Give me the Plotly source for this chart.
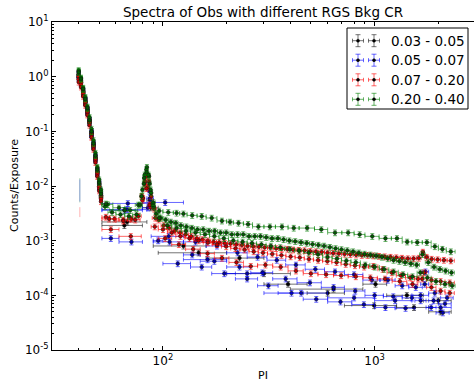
import plotly.graph_objects as go

# ---------------------------------------------------------------------------
# Data: grouped RGS background spectra (count rate per PI bin)
# Each spectrum is a list of contiguous bin edges (PI) and the rate per bin.
# All spectra share one-channel bins over the steep low-PI edge (PI 40-51).
# ---------------------------------------------------------------------------
EDGE_BINS = [39.5, 40.5, 41.5, 42.5, 43.5, 44.5, 45.5, 46.5, 47.5, 48.5, 49.5, 50.5, 51.5]

# --- 0.03 - 0.05 (black) ---
K1_EDGES = [51.5, 84, 90, 160, 300, 480, 720, 1270, 1800, 2300]
K1_RATE = [1.0, 0.8, 0.52, 0.35, 0.23, 0.15, 0.09, 0.055, 0.032, 0.018, 0.010, 0.0064,
           0.0022, 0.0055, 0.0008, 0.00048, 0.00016, 0.00011, 0.000065, 0.00006, 0.00005]
K2_EDGES = [51.5, 80, 95, 200, 400, 880, 1140, 1700, 2300]
K2_RATE = [0.98, 0.78, 0.5, 0.34, 0.22, 0.145, 0.088, 0.053, 0.031, 0.017, 0.0098, 0.0062,
           0.0019, 0.004, 0.0006, 0.00025, 0.00013, 0.00016, 0.0001, 0.00008]

# --- 0.05 - 0.07 (blue) ---
B1_EDGES = [51.5, 85, 88, 125, 160, 200, 250, 310, 380, 470, 580, 720, 880, 1060, 1250,
            1450, 1680, 1800, 2050, 2350]
B1_RATE = [1.1, 0.85, 0.55, 0.37, 0.25, 0.16, 0.095, 0.058, 0.034, 0.019, 0.011, 0.0068,
           0.0048, 0.008, 0.0012, 0.00095, 0.0008, 0.0006, 0.0005, 0.00044, 0.00036, 0.0003,
           0.00027, 0.00024, 0.00019, 0.00019, 0.00015, 0.00014, 0.00027, 0.00011, 0.00009]
B2_EDGES = [51.5, 84, 90, 125, 150, 200, 260, 330, 430, 560, 720, 900, 1100, 1350, 1650,
            1800, 2000, 2300]
B2_RATE = [1.05, 0.8, 0.53, 0.36, 0.24, 0.155, 0.092, 0.056, 0.033, 0.018, 0.0105, 0.0066,
           0.0037, 0.006, 0.00095, 0.00055, 0.00042, 0.00033, 0.00026, 0.0002, 0.00017,
           0.00014, 0.00012, 0.0001, 0.000095, 0.00009, 0.00016, 0.00008, 0.00007]
B3_EDGES = [51.5, 62, 80, 90, 100, 135, 170, 220, 280, 350, 460, 600, 780, 1000, 1250, 1550,
            1750, 1950, 2250]
B3_RATE = [0.95, 0.75, 0.5, 0.34, 0.22, 0.145, 0.085, 0.052, 0.03, 0.017, 0.0095, 0.006,
           0.0011, 0.00095, 0.004, 0.001, 0.00038, 0.00033, 0.00025, 0.0002, 0.00015,
           0.00011, 0.000085, 0.000076, 0.000068, 0.00006, 0.000058, 0.00008, 0.00006,
           0.000048]
B4_EDGES = [51.5, 80, 125, 200, 300, 600, 1000, 1500, 1800, 2300]
B4_RATE = [1.08, 0.83, 0.54, 0.36, 0.245, 0.158, 0.093, 0.057, 0.033, 0.0185, 0.0108, 0.0067,
           0.0036, 0.005, 0.00045, 0.00025, 0.00011, 0.00009, 0.00008, 0.0001, 0.00006]

# --- 0.07 - 0.20 (red) ---
R1_EDGES = [51.5, 56, 62, 68, 74, 79, 81, 83, 85, 87, 89, 93, 98, 104, 110, 117, 124, 132,
            140, 149, 158, 168, 179, 190, 202, 215, 229, 243, 259, 275, 293, 312, 332, 353,
            375, 399, 425, 452, 481, 512, 545, 580, 617, 657, 699, 744, 792, 843, 897, 955,
            1016, 1082, 1152, 1226, 1305, 1390, 1480, 1575, 1660, 1720, 1800, 1920, 2050,
            2200, 2380]
R1_RATE = [1.0, 0.78, 0.5, 0.34, 0.23, 0.15, 0.088, 0.055, 0.032, 0.018, 0.0098, 0.0063,
           0.0027, 0.0025, 0.0024, 0.0025, 0.0028,
           0.0055, 0.011, 0.015, 0.012, 0.0065,
           0.0038, 0.0024, 0.0019, 0.0017, 0.0015,
           0.0014, 0.0013, 0.0012, 0.0011, 0.00105,
           0.001, 0.00095, 0.00093, 0.0009, 0.00088,
           0.00085, 0.00083, 0.0008, 0.00078, 0.00077,
           0.00075, 0.00074, 0.00072, 0.00071, 0.0007,
           0.00068, 0.00067, 0.00066, 0.00064, 0.00063,
           0.00062, 0.0006, 0.00059, 0.00058, 0.00057,
           0.00056, 0.00055, 0.00054, 0.00054, 0.00053,
           0.00052, 0.00051, 0.0005, 0.00049, 0.00048,
           0.00047, 0.00047, 0.00048, 0.00062, 0.0005,
           0.00046, 0.00045, 0.00044, 0.00043]
R2_EDGES = [51.5, 60, 70, 78, 81, 83.5, 86, 89, 95, 105, 115, 127, 140, 155, 171, 189, 209,
            231, 255, 282, 312, 345, 381, 421, 465, 514, 568, 628, 694, 767, 848, 937, 1036,
            1145, 1266, 1399, 1546, 1660, 1760, 1950, 2150, 2380]
R2_RATE = [0.9, 0.7, 0.47, 0.32, 0.21, 0.14, 0.08, 0.05, 0.029, 0.016, 0.0088, 0.0058,
           0.0025, 0.0023, 0.0024, 0.0065, 0.012, 0.0095, 0.0045, 0.0026, 0.0016, 0.0014,
           0.0012, 0.0011, 0.001, 0.00092, 0.00085,
           0.00078, 0.00072, 0.00068, 0.00063, 0.0006,
           0.00057, 0.00054, 0.00051, 0.00049, 0.00046,
           0.00044, 0.00042, 0.0004, 0.00037, 0.00035,
           0.00033, 0.00034, 0.0003, 0.00026, 0.00023,
           0.00021, 0.0002, 0.00026, 0.00019, 0.00018,
           0.00017]
R3_EDGES = [51.5, 62, 79, 82, 85, 88, 95, 110, 128, 150, 175, 205, 240, 280, 330, 390, 460,
            540, 640, 750, 880, 1030, 1210, 1420, 1600, 1760, 1950, 2150, 2380]
R3_RATE = [0.8, 0.65, 0.44, 0.3, 0.2, 0.13, 0.078, 0.047, 0.027, 0.015, 0.0082, 0.0052,
           0.0016, 0.0012, 0.006, 0.009, 0.0045, 0.0018, 0.0011, 0.00085, 0.0007, 0.00058,
           0.00048, 0.0004, 0.00034, 0.00036, 0.00033, 0.00028, 0.00025, 0.00024, 0.00023,
           0.00022, 0.00021, 0.0002, 0.00018, 0.00016, 0.0002, 0.00014, 0.00012, 0.00011]

# --- 0.20 - 0.40 (green) ---
G1_EDGES = [51.5, 58, 66, 74, 79, 81, 83, 85, 87, 89, 92, 100, 112, 120, 130, 145, 160, 180,
            200, 215, 240, 265, 300, 340, 390, 440, 520, 600, 700, 800, 900, 1050, 1200,
            1350, 1500, 1680, 1850, 2000, 2180, 2400]
G1_RATE = [1.3, 0.95, 0.62, 0.42, 0.28, 0.18, 0.11, 0.068, 0.04, 0.022, 0.013, 0.0085,
           0.0046, 0.0040, 0.0036, 0.0045,
           0.0085, 0.016, 0.022, 0.015, 0.0075,
           0.0042, 0.0035, 0.0033, 0.0032, 0.0031,
           0.0029, 0.0028, 0.0026, 0.0023, 0.0022,
           0.0021, 0.0020, 0.0018, 0.0018, 0.0018,
           0.0017, 0.0017, 0.0016, 0.0014, 0.0014,
           0.0013, 0.0012, 0.0011, 0.0011, 0.00095,
           0.00093, 0.00093, 0.00078, 0.0007, 0.00063]
G2_EDGES = [51.5, 55, 60, 66, 72, 78, 80.5, 82.5, 84.5, 86.5, 88.5, 91, 95, 100, 106, 112,
            118, 125, 133, 141, 150, 160, 170, 181, 193, 205, 218, 232, 247, 263, 280, 298,
            317, 338, 360, 383, 408, 435, 463, 493, 525, 559, 595, 634, 675, 719, 766, 816,
            869, 925, 985, 1049, 1117, 1190, 1267, 1350, 1437, 1530, 1630, 1736, 1849, 1969,
            2097, 2233, 2380]
G2_RATE = [1.25, 0.9, 0.58, 0.4, 0.26, 0.17, 0.1, 0.063, 0.037, 0.021, 0.012, 0.0078,
           0.0042, 0.0033, 0.0030, 0.0028, 0.0030,
           0.0065, 0.014, 0.02, 0.016, 0.0085,
           0.0045, 0.0031, 0.0026, 0.0024, 0.0022,
           0.0021, 0.0019, 0.0018, 0.0017, 0.0016,
           0.0016, 0.0015, 0.0015, 0.0014, 0.0014,
           0.0013, 0.0013, 0.0013, 0.0012, 0.0012,
           0.0012, 0.00115, 0.0011, 0.0011, 0.00105,
           0.001, 0.00097, 0.00093, 0.0009, 0.00086,
           0.00083, 0.0008, 0.00076, 0.00072, 0.00069,
           0.00066, 0.00063, 0.0006, 0.00057, 0.00055,
           0.00053, 0.0005, 0.00047, 0.00044, 0.00042,
           0.0004, 0.00038, 0.00036, 0.00056, 0.0004,
           0.00033, 0.0003, 0.00028, 0.00026]
G3_EDGES = [51.5, 56, 76, 80, 82.5, 85, 88, 92, 100, 110, 122, 135, 150, 166, 184, 204, 226,
            250, 277, 307, 340, 377, 418, 463, 513, 568, 630, 698, 773, 857, 950, 1053, 1167,
            1293, 1433, 1588, 1700, 1850, 2050, 2250, 2400]
G3_RATE = [1.2, 0.92, 0.6, 0.39, 0.27, 0.16, 0.1, 0.06, 0.036, 0.02, 0.0115, 0.0072,
           0.0047, 0.0036, 0.0045, 0.011, 0.018, 0.011, 0.005, 0.0026, 0.0019, 0.0017,
           0.0015, 0.0014, 0.0013, 0.0012, 0.0011,
           0.001, 0.00095, 0.0009, 0.00085, 0.0008,
           0.00075, 0.0007, 0.00065, 0.0006, 0.00056,
           0.0005, 0.00047, 0.00043, 0.0004, 0.00036,
           0.00033, 0.0003, 0.00027, 0.00024, 0.00022,
           0.00026, 0.00021, 0.00018, 0.00016, 0.00015]

# Lone first-channel points with only a vertical error bar
LONE_PI = [40.5, 40.5, 40.5]
LONE_RATE = [0.0095, 0.0092, 0.0034]
LONE_ERR = [0.0045, 0.0040, 0.0007]
LONE_GROUP = [3, 1, 2]

GROUP_LABELS = ["0.03 - 0.05", "0.05 - 0.07", "0.07 - 0.20", "0.20 - 0.40"]
BAR_COLORS = ["rgba(0,0,0,0.55)", "rgba(0,0,255,0.6)", "rgba(255,0,0,0.6)", "rgba(0,128,0,0.6)"]
LONE_COLORS = ["rgba(0,0,0,0.3)", "rgba(0,0,255,0.3)", "rgba(255,0,0,0.3)", "rgba(0,128,0,0.3)"]
DOT_COLORS = ["#000000", "#0000b0", "#c00000", "#005a00"]

SPECTRA = [
    (0, K1_EDGES, K1_RATE), (0, K2_EDGES, K2_RATE),
    (1, B1_EDGES, B1_RATE), (1, B2_EDGES, B2_RATE), (1, B3_EDGES, B3_RATE), (1, B4_EDGES, B4_RATE),
    (2, R1_EDGES, R1_RATE), (2, R2_EDGES, R2_RATE), (2, R3_EDGES, R3_RATE),
    (3, G1_EDGES, G1_RATE), (3, G2_EDGES, G2_RATE), (3, G3_EDGES, G3_RATE),
]

# ---------------------------------------------------------------------------
W, H = 474, 383
ML, MR, MT, MB = 52, 0, 22, 33
X_RANGE = [1.476, 3.4695]
Y_RANGE = [-5, 1]
FONT = "DejaVu Sans"

fig = go.Figure()

for group, cont_edges, rates in SPECTRA:
    edges = EDGE_BINS + cont_edges[1:]
    if len(edges) != len(rates) + 1:
        raise ValueError("edges/rates mismatch")
    lo, hi = edges[:-1], edges[1:]
    centers = [(a + b) / 2 for a, b in zip(lo, hi)]
    fig.add_trace(go.Scatter(
        x=centers, y=rates, mode="markers",
        marker=dict(size=3.6, color=DOT_COLORS[group], line=dict(width=0.6, color="#101010")),
        error_x=dict(type="data", symmetric=False,
                     array=[b - c for b, c in zip(hi, centers)],
                     arrayminus=[c - a for a, c in zip(lo, centers)],
                     color=BAR_COLORS[group], thickness=1, width=2),
        error_y=dict(type="percent", value=12, color=BAR_COLORS[group], thickness=1, width=2),
        showlegend=False, hoverinfo="skip",
    ))

for pi, rate, err, group in zip(LONE_PI, LONE_RATE, LONE_ERR, LONE_GROUP):
    fig.add_trace(go.Scatter(
        x=[pi], y=[rate], mode="markers", marker=dict(size=3, opacity=0),
        error_y=dict(type="data", array=[err], color=LONE_COLORS[group], thickness=1, width=0),
        showlegend=False, hoverinfo="skip",
    ))

# ---------------------------------------------------------------------------
# Legend box drawn in pixel space (two error-bar glyphs per entry)
PW, PH = W - ML - MR, H - MT - MB


def px(xp):
    return (xp - ML) / PW


def py(yp):
    return (H - MB - yp) / PH


shapes = [dict(type="rect", xref="paper", yref="paper",
               x0=px(347), x1=px(468), y0=py(109), y1=py(28),
               line=dict(color="black", width=1), fillcolor="white", layer="above")]
annotations = []
row_y = [40.7, 60.2, 79.8, 99.3]
for i, label in enumerate(GROUP_LABELS):
    yc = row_y[i]
    col = BAR_COLORS[i]
    for xc in (358, 374):
        segs = [
            (xc - 5.5, yc, xc + 5.5, yc),
            (xc, yc - 6, xc, yc + 6),
            (xc - 5.5, yc - 2, xc - 5.5, yc + 2),
            (xc + 5.5, yc - 2, xc + 5.5, yc + 2),
            (xc - 2.5, yc - 6, xc + 2.5, yc - 6),
            (xc - 2.5, yc + 6, xc + 2.5, yc + 6),
        ]
        for x0, y0, x1, y1 in segs:
            shapes.append(dict(type="line", xref="paper", yref="paper",
                               x0=px(x0), y0=py(y0), x1=px(x1), y1=py(y1),
                               line=dict(color=col, width=1), layer="above"))
        shapes.append(dict(type="circle", xref="paper", yref="paper",
                           x0=px(xc - 1.5), x1=px(xc + 1.5), y0=py(yc + 1.5), y1=py(yc - 1.5),
                           line=dict(color="black", width=0.5), fillcolor="black", layer="above"))
    annotations.append(dict(text=label, xref="paper", yref="paper", x=px(389), y=py(yc),
                            xanchor="left", yanchor="middle", showarrow=False,
                            font=dict(family=FONT, size=13.5, color="black")))

# Axis titles
annotations.append(dict(text="PI", xref="paper", yref="paper", x=0.5, y=py(375),
                        xanchor="center", yanchor="middle", showarrow=False,
                        font=dict(family=FONT, size=11, color="black")))
annotations.append(dict(text="Counts/Exposure", xref="paper", yref="paper", x=px(14), y=0.5,
                        xanchor="center", yanchor="middle", showarrow=False, textangle=-90,
                        font=dict(family=FONT, size=11, color="black")))

x_minor = [m * 10 ** d for d in (1, 2, 3) for m in range(2, 10)]
y_minor = [m * 10.0 ** d for d in range(-5, 1) for m in range(2, 10)]

fig.update_layout(
    width=W, height=H,
    margin=dict(l=ML, r=MR, t=MT, b=MB, pad=0),
    paper_bgcolor="white", plot_bgcolor="white",
    font=dict(family=FONT, size=12, color="black"),
    title=dict(text="Spectra of Obs with different RGS Bkg CR", x=0.5, xref="paper",
               xanchor="center", y=1 - 12 / H, yref="container", yanchor="middle",
               font=dict(family=FONT, size=13.5, color="black")),
    xaxis=dict(type="log", range=X_RANGE, showgrid=False, zeroline=False,
               showline=True, linecolor="black", linewidth=1, mirror="ticks",
               ticks="inside", ticklen=4, tickcolor="black",
               tickmode="array", tickvals=[100, 1000],
               ticktext=["10<sup>2</sup>", "10<sup>3</sup>"],
               tickfont=dict(family=FONT, size=12),
               minor=dict(ticks="inside", ticklen=2, tickcolor="black",
                          tickmode="array", tickvals=x_minor, showgrid=False)),
    yaxis=dict(type="log", range=Y_RANGE, showgrid=False, zeroline=False,
               showline=True, linecolor="black", linewidth=1, mirror=False,
               ticks="inside", ticklen=4, tickcolor="black",
               tickmode="array", tickvals=[1e-5, 1e-4, 1e-3, 1e-2, 1e-1, 1, 10],
               ticktext=["10<sup>-5</sup>", "10<sup>-4</sup>", "10<sup>-3</sup>",
                         "10<sup>-2</sup>", "10<sup>-1</sup>", "10<sup>0</sup>", "10<sup>1</sup>"],
               tickfont=dict(family=FONT, size=12),
               minor=dict(ticks="inside", ticklen=2, tickcolor="black",
                          tickmode="array", tickvals=y_minor, showgrid=False)),
    shapes=shapes,
    annotations=annotations,
)

fig.write_html("out.html")
